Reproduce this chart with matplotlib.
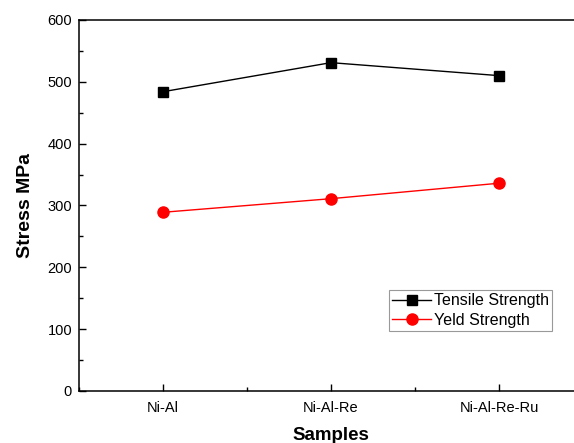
import matplotlib
matplotlib.use('Agg')
import matplotlib.pyplot as plt
from matplotlib.ticker import MultipleLocator

plt.rcParams['font.family'] = ['Liberation Sans', 'DejaVu Sans']

samples = ['Ni-Al', 'Ni-Al-Re', 'Ni-Al-Re-Ru']
tensile = [484, 531, 510]
yeld = [289, 311, 336]

fig = plt.figure(figsize=(5.74, 4.43), dpi=100)
ax = fig.add_axes([0.1376, 0.1174, 0.878, 0.8375])

x = range(len(samples))
ax.plot(x, tensile, color='black', marker='s', markersize=7, linewidth=1, label='Tensile Strength')
ax.plot(x, yeld, color='red', marker='o', markersize=8, linewidth=1, label='Yeld Strength')

ax.set_xlim(-0.5, 2.5)
ax.set_ylim(0, 600)
ax.set_xticks(list(x))
ax.set_xticklabels(samples)
ax.xaxis.set_minor_locator(MultipleLocator(0.5))
ax.yaxis.set_major_locator(MultipleLocator(100))
ax.yaxis.set_minor_locator(MultipleLocator(50))
ax.tick_params(which='both', direction='in', labelsize=10.5, width=1)
ax.tick_params(which='major', length=5)
ax.tick_params(which='minor', length=3)
ax.tick_params(axis='x', pad=7)
ax.tick_params(axis='y', pad=5)
for s in ax.spines.values():
    s.set_linewidth(1.1)

ax.set_xlabel('Samples', fontsize=13.5, fontweight='bold', labelpad=9)
ax.set_ylabel('Stress MPa', fontsize=14, fontweight='bold', labelpad=10)

leg = ax.legend(loc='upper left', bbox_to_anchor=(0.6155, 0.272), fontsize=11.5,
                frameon=True, fancybox=False, edgecolor='gray', handlelength=2.4,
                borderpad=0.2, labelspacing=0.3, handletextpad=0.2, borderaxespad=0)
leg.get_frame().set_linewidth(0.8)

fig.savefig('out.png', dpi=100)
